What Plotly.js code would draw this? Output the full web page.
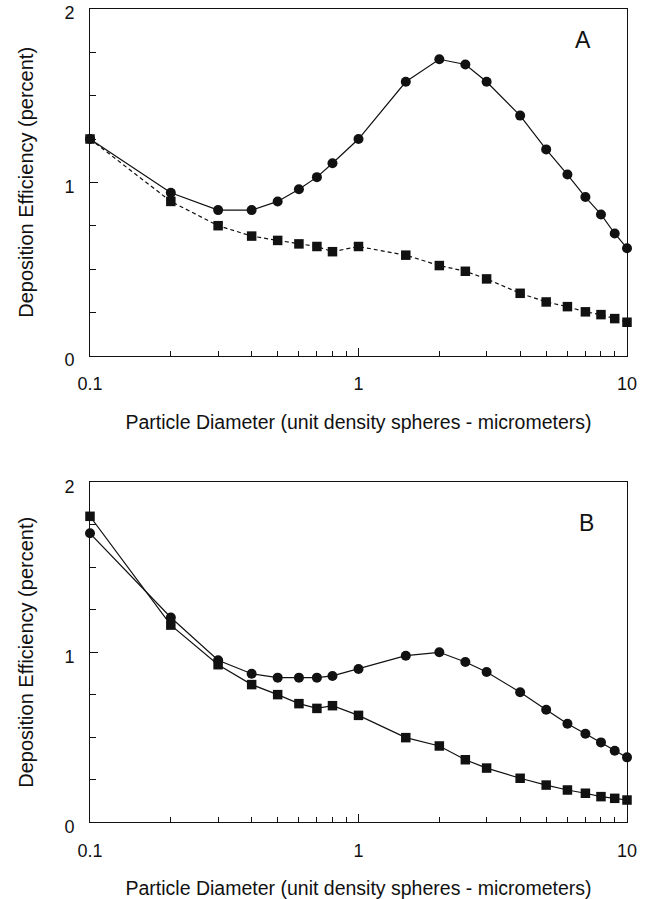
<!DOCTYPE html>
<html>
<head>
<meta charset="utf-8">
<script src="https://cdn.plot.ly/plotly-3.0.1.min.js"></script>
<style>html,body{margin:0;padding:0;background:#fff;}#chart{width:650px;height:899px;}</style>
</head>
<body>
<div id="chart"></div>
<script>
// Particle diameters (micrometers)
const diameters = [0.1, 0.2, 0.3, 0.4, 0.5, 0.6, 0.7, 0.8, 1, 1.5, 2, 2.5, 3, 4, 5, 6, 7, 8, 9, 10];

// Panel A
const panelA_circles = [1.25, 0.94, 0.84, 0.84, 0.89, 0.96, 1.03, 1.11, 1.25, 1.58, 1.71, 1.68, 1.58, 1.385, 1.19, 1.045, 0.915, 0.815, 0.705, 0.62];
const panelA_squares = [1.25, 0.89, 0.75, 0.69, 0.665, 0.645, 0.63, 0.60, 0.63, 0.58, 0.52, 0.487, 0.443, 0.36, 0.31, 0.283, 0.253, 0.237, 0.214, 0.193];

// Panel B
const panelB_circles = [1.70, 1.205, 0.953, 0.874, 0.851, 0.851, 0.851, 0.861, 0.902, 0.98, 1.0, 0.943, 0.884, 0.765, 0.662, 0.58, 0.521, 0.47, 0.421, 0.382];
const panelB_squares = [1.80, 1.16, 0.927, 0.81, 0.751, 0.698, 0.67, 0.686, 0.629, 0.498, 0.449, 0.368, 0.319, 0.259, 0.219, 0.19, 0.171, 0.151, 0.141, 0.131];

const xTickVals = [0.1, 1, 10];
const xTickText = ['0.1', '1', '10'];
const xMinorVals = [0.2,0.3,0.4,0.5,0.6,0.7,0.8,0.9,2,3,4,5,6,7,8,9];
const yTickVals = [0, 1, 2];
const yTickText = ['0', '1', '2'];

const xTitle = 'Particle Diameter (unit density spheres - micrometers)';
const yTitle = 'Deposition Efficiency (percent)';
const panelLabels = ['A', 'B'];

const FONT = 'Liberation Sans, Arial, sans-serif';
const ink = '#111';

function tr(y, xa, ya, sym, dash) {
  return {
    x: diameters, y: y, xaxis: xa, yaxis: ya, type: 'scatter', mode: 'lines+markers',
    line: {color: ink, width: 1.2, dash: dash},
    marker: {symbol: sym, size: sym === 'square' ? 9.5 : 10, color: ink},
    showlegend: false, cliponaxis: false
  };
}

const data = [
  tr(panelA_circles, 'x', 'y', 'circle', 'solid'),
  tr(panelA_squares, 'x', 'y', 'square', '4px,3px'),
  tr(panelB_circles, 'x2', 'y2', 'circle', 'solid'),
  tr(panelB_squares, 'x2', 'y2', 'square', 'solid')
];

function xax(anchor, domainX) {
  return {
    type: 'log', range: [-1, 1], domain: domainX, anchor: anchor,
    tickmode: 'array', tickvals: xTickVals, ticktext: xTickText,
    ticks: 'inside', ticklen: 8, tickwidth: 1, tickcolor: ink,
    minor: {tickmode: 'array', tickvals: xMinorVals, ticks: 'inside', ticklen: 5, tickwidth: 1, tickcolor: ink, showgrid: false},
    showline: true, linecolor: ink, linewidth: 1, mirror: true,
    showgrid: false, zeroline: false,
    tickfont: {family: FONT, size: 18, color: ink},
    ticklabelstandoff: 12, ticklabeloverflow: 'allow',
    title: {text: xTitle, font: {family: FONT, size: 19.5, color: ink}, standoff: 22},
    automargin: false
  };
}
function yax(anchor, domainY) {
  return {
    range: [0, 2], domain: domainY, anchor: anchor,
    tickmode: 'array', tickvals: yTickVals, ticktext: yTickText,
    ticks: 'inside', ticklen: 8, tickwidth: 1, tickcolor: ink,
    minor: {dtick: 0.25, tick0: 0, ticks: 'inside', ticklen: 6, tickwidth: 1, tickcolor: ink, showgrid: false},
    showline: true, linecolor: ink, linewidth: 1, mirror: true,
    showgrid: false, zeroline: false,
    tickfont: {family: FONT, size: 18, color: ink},
    ticklabelstandoff: 11, ticklabelshift: 4, ticklabeloverflow: 'allow',
    title: {text: yTitle, font: {family: FONT, size: 20, color: ink}, standoff: 25},
    automargin: false
  };
}

const domX = [90/650, 627/650];
const layout = {
  width: 650, height: 899,
  margin: {l: 0, r: 0, t: 0, b: 0},
  paper_bgcolor: '#fff', plot_bgcolor: '#fff',
  xaxis: xax('y', domX),
  yaxis: yax('x', [1 - 355.7/899, 1 - 9/899]),
  xaxis2: xax('y2', domX),
  yaxis2: yax('x2', [1 - 822.3/899, 1 - 482.3/899]),
  annotations: [
    {text: panelLabels[0], xref: 'x domain', yref: 'y domain', x: 0.918, y: 0.911, xanchor: 'center', yanchor: 'middle', showarrow: false, font: {family: FONT, size: 23, color: ink}},
    {text: panelLabels[1], xref: 'x2 domain', yref: 'y2 domain', x: 0.924, y: 0.88, xanchor: 'center', yanchor: 'middle', showarrow: false, font: {family: FONT, size: 23, color: ink}}
  ]
};

Plotly.newPlot('chart', data, layout, {staticPlot: true, displayModeBar: false});
</script>
</body>
</html>
